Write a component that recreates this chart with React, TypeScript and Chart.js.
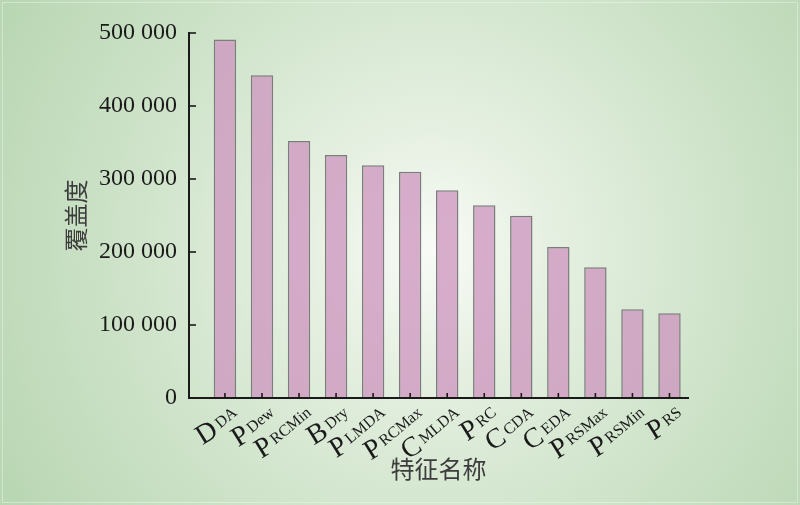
import React, { useEffect, useRef } from "react";
import { Chart, registerables } from "chart.js";

Chart.register(...registerables);

const mainLetters = ["D", "P", "P", "B", "P", "P", "C", "P", "C", "C", "P", "P", "P"];
const subscripts = ["DA", "Dew", "RCMin", "Dry", "LMDA", "RCMax", "MLDA", "RC", "CDA", "EDA", "RSMax", "RSMin", "RS"];
const coverage = [491000, 442000, 352000, 333000, 319000, 310000, 284600, 264000, 249500, 206700, 179000, 121600, 116000];
const yTicks = [0, 100000, 200000, 300000, 400000, 500000];
const yTitle = "覆盖度";
const xTitle = "特征名称";

const SERIF = '"Liberation Serif", "Times New Roman", serif';
const CJK = '"Noto Sans CJK SC", sans-serif';

const fmt = (v: number) => {
  if (v === 0) return "0";
  const s = String(Math.round(v));
  return s.replace(/\B(?=(\d{3})+(?!\d))/g, " ");
};

const bgPlugin = {
  id: "bgGrad",
  beforeDraw(chart: any) {
    const { ctx, width, height } = chart;
    ctx.save();
    const g = ctx.createRadialGradient(430, 250, 0, 430, 250, 480);
    g.addColorStop(0, "#f8fbf6");
    g.addColorStop(0.25, "#e6f0e2");
    g.addColorStop(0.6, "#d0e4cb");
    g.addColorStop(1, "#bad7b4");
    ctx.fillStyle = g;
    ctx.fillRect(0, 0, width, height);
    ctx.strokeStyle = "rgba(255,255,255,0.35)";
    ctx.lineWidth = 1;
    ctx.strokeRect(2.5, 2.5, width - 5, height - 5);
    ctx.restore();
  },
};

const axesPlugin = {
  id: "axesDraw",
  afterDatasetsDraw(chart: any) {
    const { ctx, chartArea } = chart;
    const xs = chart.scales.x;
    const ys = chart.scales.y;
    const left = chartArea.left;
    const right = chartArea.right;
    const bottom = chartArea.bottom;
    const top = chartArea.top;
    ctx.save();
    ctx.strokeStyle = "#1a1a1a";
    ctx.lineWidth = 2;
    ctx.lineCap = "square";
    ctx.beginPath();
    ctx.moveTo(left, top);
    ctx.lineTo(left, bottom);
    ctx.lineTo(right, bottom);
    ctx.stroke();
    ctx.lineCap = "butt";
    ctx.lineWidth = 1.6;
    yTicks.forEach((t) => {
      const y = ys.getPixelForValue(t);
      ctx.beginPath();
      ctx.moveTo(left, y);
      ctx.lineTo(left + 7, y);
      ctx.stroke();
    });
    coverage.forEach((_, i) => {
      const x = xs.getPixelForValue(i);
      ctx.beginPath();
      ctx.moveTo(x, bottom);
      ctx.lineTo(x, bottom - 5);
      ctx.stroke();
    });

    // x labels with subscripts
    ctx.fillStyle = "#1a1a1a";
    ctx.textBaseline = "alphabetic";
    ctx.textAlign = "right";
    mainLetters.forEach((m, i) => {
      const x = xs.getPixelForValue(i);
      ctx.save();
      ctx.translate(x + 13, bottom + 16);
      ctx.rotate((-40 * Math.PI) / 180);
      ctx.font = `16px ${SERIF}`;
      const ws = ctx.measureText(subscripts[i]).width;
      ctx.fillText(subscripts[i], 0, 0);
      ctx.translate(-ws - 4, 4);
      ctx.rotate((8 * Math.PI) / 180);
      ctx.font = `28px ${SERIF}`;
      ctx.fillText(m, 0, 0);
      ctx.restore();
    });

    // titles
    ctx.fillStyle = "#3c3c3c";
    ctx.font = `24px ${CJK}`;
    ctx.textAlign = "center";
    ctx.textBaseline = "middle";
    ctx.fillText(xTitle, (left + right) / 2, 469);
    ctx.save();
    ctx.translate(76, (top + bottom) / 2);
    ctx.rotate(-Math.PI / 2);
    ctx.fillText(yTitle, 0, 0);
    ctx.restore();
    ctx.restore();
  },
};

export default function App() {
  const ref = useRef<HTMLCanvasElement | null>(null);
  useEffect(() => {
    if (!ref.current) return;
    const chart = new Chart(ref.current, {
      type: "bar",
      data: {
        datasets: [
          {
            data: coverage.map((v, i) => ({ x: i, y: v })),
            backgroundColor: "rgba(205,148,190,0.76)",
            borderColor: "#7c7c7c",
            borderWidth: 1.5,
            borderSkipped: "bottom",
            categoryPercentage: 0.605,
            barPercentage: 1,
          },
        ],
      },
      options: {
        animation: false,
        responsive: false,
        maintainAspectRatio: false,
        devicePixelRatio: 1,
        layout: { padding: { left: 0, top: 33, right: 112, bottom: 107 } },
        plugins: { legend: { display: false }, tooltip: { enabled: false } },
        scales: {
          x: {
            type: "linear",
            min: -0.97,
            max: 12.5,
            offset: false,
            display: false,
          },
          y: {
            min: 0,
            max: 500000,
            afterFit: (s: any) => {
              s.width = 189;
            },
            grid: { display: false, drawTicks: false },
            border: { display: false },
            ticks: {
              stepSize: 100000,
              padding: 12,
              color: "#1a1a1a",
              font: { family: SERIF, size: 24 },
              callback: (v: any) => fmt(Number(v)),
            },
          },
        },
      },
      plugins: [bgPlugin, axesPlugin],
    } as any);
    return () => chart.destroy();
  }, []);
  return (
    <div style={{ position: "absolute", left: 0, top: 0, width: 800, height: 505 }}>
      <canvas ref={ref} width={800} height={505} style={{ width: 800, height: 505 }} />
    </div>
  );
}
